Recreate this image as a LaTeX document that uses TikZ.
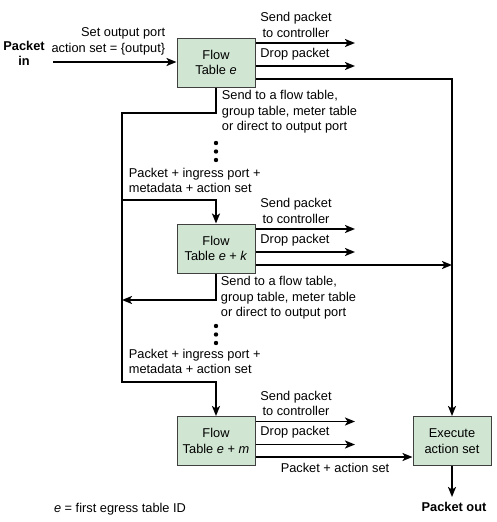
\documentclass[tikz,border=0pt]{standalone}
\usepackage{fontspec}
\setmainfont{Liberation Sans}
\usetikzlibrary{arrows.meta,positioning}
\definecolor{tblgreen}{RGB}{208,229,210}
\begin{document}
\begin{tikzpicture}[x=1pt,y=-1pt,line width=1.8pt,
  >={Stealth[length=10pt,width=8pt,inset=2.5pt]},
  ftab/.style={draw=black!75,line width=1pt,fill=tblgreen,minimum width=78pt,minimum height=49pt,align=center,inner sep=0pt,font=\fontsize{12.8}{15.5}\selectfont},
  lbl/.style={inner sep=0pt,font=\fontsize{12.8}{15.5}\selectfont}]
\useasboundingbox (0,0) rectangle (497,522);
\def\xc{216} 
\def\xl{122} 
\def\xb{452} 
\def\xe{355} 
\node[ftab] (fte) at (\xc,62.5) {Flow\\Table \textit{e}};
\node[ftab] (ftk) at (\xc,248.5) {Flow\\Table \textit{e} + \textit{k}};
\node[ftab] (ftm) at (\xc,441) {Flow\\Table \textit{e} + \textit{m}};
\node[ftab] (exe) at (\xb,441) {Execute\\action set};
\node[lbl,align=center,font=\fontsize{12.8}{15.5}\selectfont\bfseries] (pin) at (24,53.5) {Packet\\in};
\node[lbl,align=right,anchor=east] (setout) at (166,41.5) {Set output port\\action set = \{output\}};
\node[lbl,font=\fontsize{12.8}{15.5}\selectfont\bfseries] (pout) at (454,507) {Packet out};
\node[lbl] (legend) at (120,509) {\textit{e} = first egress table ID};
\foreach \t/\y in {fte/0,ftk/186,ftm/378.5}{
  \node[lbl,align=center] (\t ctl) at (296,25+\y) {Send packet\\to controller};
  \node[lbl] (\t drp) at (295,54+\y) {Drop packet};
  \coordinate (\t c) at (\xe,43+\y);
  \coordinate (\t d) at (\xe,66+\y);
  \draw[->] (\t.east |- \t c) -- (\t c);
  \draw[->] (\t.east |- \t d) -- (\t d);
}
\node[lbl,align=left,anchor=west] (fwde) at (221,112) {Send to a flow table,\\group table, meter table\\or direct to output port};
\node[lbl,align=left,anchor=west] (fwdk) at (220,298) {Send to a flow table,\\group table, meter table\\or direct to output port};
\node[lbl,align=left,anchor=west] (ipk) at (128,180.5) {Packet + ingress port +\\metadata + action set};
\node[lbl,align=left,anchor=west] (ipm) at (128,361.5) {Packet + ingress port +\\metadata + action set};
\node[lbl] (pas) at (335,468) {Packet + action set};
\foreach \y in {143,151.5,160,326,334.5,343}
  \fill (\xc,\y) circle (2.2pt);
\coordinate (pinS) at (53,62);
\coordinate (busT) at (\xb,79);
\coordinate (busK) at (\xb,265);
\coordinate (eS) at (\xc,113);
\coordinate (kS) at (\xc,300);
\coordinate (kIn) at (\xl,200);
\coordinate (mIn) at (\xl,382);
\coordinate (pOut) at (\xb,497);
\draw[->] (pinS) -- (pinS -| fte.west);
\draw[->] (fte.east |- busT) -- (busT) -- (exe.north);
\draw[->] (ftk.east |- busK) -- (busK);
\draw[->] (ftm.east |- 0,457) -- (exe.west |- 0,457);
\draw[->] (fte.south) -- (eS) -- (eS -| mIn) -- (mIn) -- (mIn -| ftm.north) -- (ftm.north);
\draw[->] (kIn) -- (kIn -| ftk.north) -- (ftk.north);
\draw[->] (ftk.south) -- (kS) -- (kS -| kIn);
\draw[->] (exe.south) -- (pOut);
\end{tikzpicture}
\end{document}
